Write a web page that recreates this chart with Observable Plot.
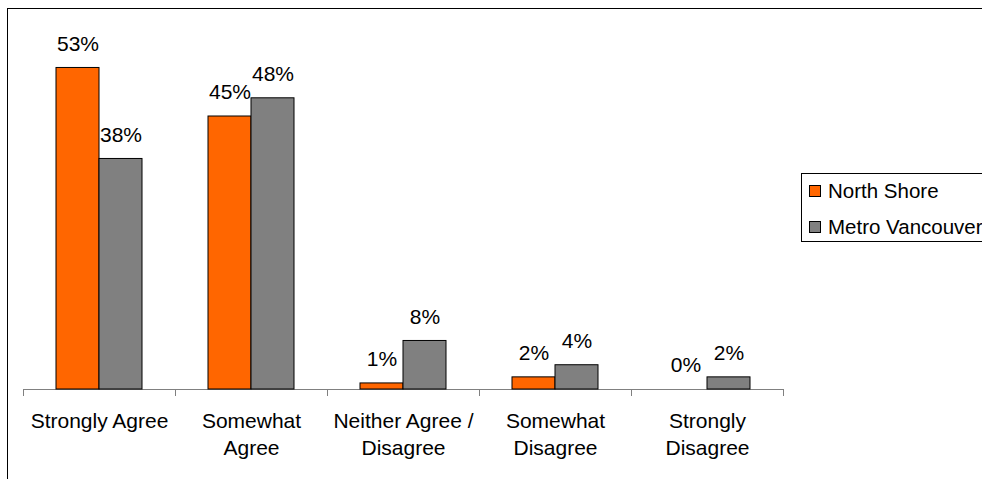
<!DOCTYPE html>
<html>
<head>
<meta charset="utf-8">
<script src="https://cdn.jsdelivr.net/npm/d3@7"></script>
<script src="https://cdn.jsdelivr.net/npm/@observablehq/plot@0.6"></script>
<style>
  html, body { margin: 0; padding: 0; background: #fff; }
  #wrap { position: relative; width: 982px; height: 479px; overflow: hidden; font-family: "Liberation Sans", Arial, sans-serif; }
  #frame { position: absolute; left: 7px; top: 8px; width: 1200px; height: 800px; border-left: 1px solid #000; border-top: 1px solid #000; }
  #chart { position: absolute; left: 0; top: 0; }
  #legend { position: absolute; left: 801px; top: 173px; width: 300px; height: 67px; border: 1px solid #000; background: #fff; }
  .item { position: absolute; left: 7px; display: flex; align-items: center; font-size: 20.5px; color: #000; white-space: nowrap; }
  .sw { width: 10px; height: 10px; border: 1px solid #000; margin-right: 7px; }
</style>
</head>
<body>
<div id="wrap">
  <div id="frame"></div>
  <div id="chart"></div>
  <div id="legend"></div>
</div>
<script>
const categories = ["Strongly Agree", "Somewhat Agree", "Neither Agree / Disagree", "Somewhat Disagree", "Strongly Disagree"];
const tickLabels = ["Strongly Agree", "Somewhat\nAgree", "Neither Agree /\nDisagree", "Somewhat\nDisagree", "Strongly\nDisagree"];
const seriesNames = ["North Shore", "Metro Vancouver"];
const northShore = [53, 45, 1, 2, 0];
const metroVancouver = [38, 48, 8, 4, 2];
const seriesColors = ["#FF6600", "#808080"];

const seriesValues = [northShore, metroVancouver];
const rows = [];
categories.forEach((c, i) => {
  seriesNames.forEach((s, j) => rows.push({category: c, series: s, value: seriesValues[j][i]}));
});

const chart = Plot.plot({
  width: 982,
  height: 479,
  marginLeft: 23,
  marginRight: 199,
  marginTop: 25,
  marginBottom: 90,
  style: {fontFamily: "'Liberation Sans', Arial, sans-serif", fontSize: "21px", background: "transparent", color: "#000"},
  fx: {domain: categories, padding: 0, label: null},
  x: {domain: seriesNames, paddingInner: 0, paddingOuter: 0.747, axis: null},
  y: {domain: [0, 60], axis: null},
  color: {domain: seriesNames, range: seriesColors},
  marks: [
    Plot.ruleY([0], {stroke: "#808080", strokeWidth: 1}),
    Plot.barY(rows.filter(d => d.value > 0), {fx: "category", x: "series", y: "value", fill: "series", stroke: "#000", strokeWidth: 1}),
    Plot.text(rows, {fx: "category", x: "series", y: "value", text: d => d.value + "%", dy: -24, fontSize: 21, fill: "#000"}),
    Plot.axisFx({anchor: "bottom", tickSize: 0, tickPadding: 19, fontSize: 21, lineHeight: 1.29, label: null,
      tickFormat: d => tickLabels[categories.indexOf(d)]})
  ]
});
document.getElementById("chart").appendChild(chart);

// Category boundary tick marks, positioned by the fx and y scales
const fx = chart.scale("fx");
const y = chart.scale("y");
const y0 = y.apply(0);
const bounds = categories.map(c => fx.apply(c)).concat([fx.apply(categories[categories.length - 1]) + fx.bandwidth]);
d3.select(chart).append("g")
  .selectAll("line").data(bounds).join("line")
  .attr("x1", d => Math.round(d) + 0.5).attr("x2", d => Math.round(d) + 0.5)
  .attr("y1", y0).attr("y2", y0 + 7)
  .attr("stroke", "#808080").attr("stroke-width", 1);

// Legend
const legend = d3.select("#legend");
const rowTops = [5, 41];
seriesNames.forEach((s, i) => {
  const item = legend.append("div").attr("class", "item").style("top", rowTops[i] + "px");
  item.append("div").attr("class", "sw").style("background", seriesColors[i]);
  item.append("span").text(s);
});
</script>
</body>
</html>
